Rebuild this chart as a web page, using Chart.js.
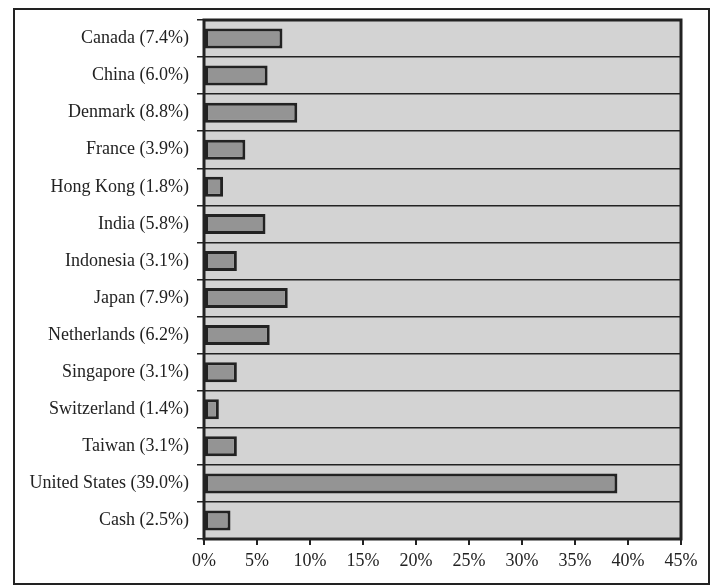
<!DOCTYPE html>
<html>
<head>
<meta charset="utf-8">
<script src="https://cdn.jsdelivr.net/npm/chart.js@4"></script>
<style>
  html, body { margin: 0; padding: 0; background: #fff; }
  #wrap { width: 717px; height: 586px; }
</style>
</head>
<body>
<div id="wrap"><canvas id="barChart" width="717" height="586"></canvas></div>
<script>
  // data
  const countries = ['Canada', 'China', 'Denmark', 'France', 'Hong Kong', 'India', 'Indonesia',
    'Japan', 'Netherlands', 'Singapore', 'Switzerland', 'Taiwan', 'United States', 'Cash'];
  const weights = [7.4, 6.0, 8.8, 3.9, 1.8, 5.8, 3.1, 7.9, 6.2, 3.1, 1.4, 3.1, 39.0, 2.5];
  const xTicks = [0, 5, 10, 15, 20, 25, 30, 35, 40, 45];

  const labels = countries.map((c, i) => c + ' (' + weights[i].toFixed(1) + '%)');
  const ink = '#222';

  // gray plot background, plot frame and outer box
  const frame = {
    id: 'frame',
    beforeDraw(chart) {
      const { ctx, chartArea: a } = chart;
      ctx.save();
      ctx.fillStyle = '#d3d3d3';
      ctx.fillRect(a.left, a.top, a.right - a.left, a.bottom - a.top);
      ctx.restore();
    },
    afterDraw(chart) {
      const { ctx, chartArea: a } = chart;
      ctx.save();
      ctx.strokeStyle = ink;
      ctx.lineWidth = 3;
      ctx.strokeRect(a.left, a.top, a.right - a.left, a.bottom - a.top);
      ctx.lineWidth = 2;
      ctx.strokeRect(14, 9, 695, 575);
      ctx.restore();
    }
  };

  new Chart(document.getElementById('barChart').getContext('2d'), {
    type: 'bar',
    data: {
      labels: labels,
      datasets: [{
        data: weights,
        backgroundColor: '#949494',
        borderColor: ink,
        borderWidth: 3,
        borderSkipped: false,
        categoryPercentage: 1,
        barPercentage: 0.54
      }]
    },
    options: {
      indexAxis: 'y',
      responsive: false,
      animation: false,
      layout: { padding: { top: 20, right: 36, left: 0, bottom: 0 } },
      plugins: { legend: { display: false }, tooltip: { enabled: false } },
      scales: {
        x: {
          min: 0, max: 45,
          afterBuildTicks(scale) { scale.ticks = xTicks.map(v => ({ value: v })); },
          afterFit(scale) { scale.height = 47; },
          border: { display: false },
          grid: { drawOnChartArea: false, tickLength: 6, color: ink, lineWidth: 2 },
          ticks: {
            padding: 5,
            color: ink,
            font: { family: 'Liberation Serif', size: 18 },
            callback: v => v + '%'
          }
        },
        y: {
          afterFit(scale) { scale.width = 204; },
          border: { display: false },
          grid: { offset: true, tickLength: 7, color: ink, lineWidth: 1.5 },
          ticks: {
            padding: 8,
            color: ink,
            font: { family: 'Liberation Serif', size: 18 }
          }
        }
      }
    },
    plugins: [frame]
  });
</script>
</body>
</html>
